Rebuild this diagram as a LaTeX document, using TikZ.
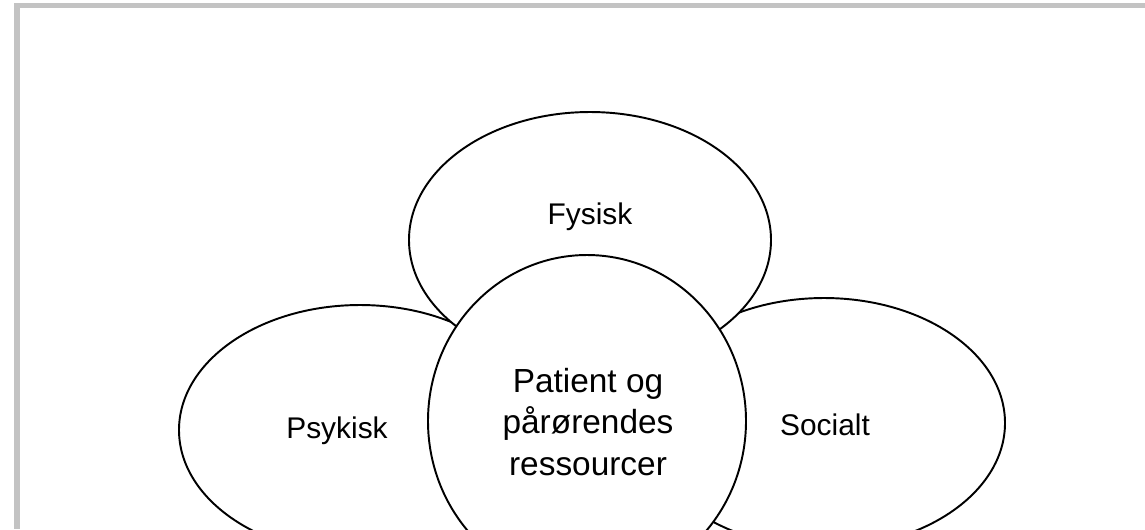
\documentclass[tikz,border=0pt]{standalone}
\usepackage{fontspec}
\setmainfont{Liberation Sans}
\definecolor{framegray}{RGB}{195,195,195}
\tikzset{
  blob/.style={draw=black, fill=white, line width=0.55pt},
  lbl/.style={font=\fontsize{8.5}{10}\selectfont},
  core/.style={align=center, font=\fontsize{9.5}{11.8}\selectfont},
}
\begin{document}
\begin{tikzpicture}
[x=0.01cm, y=-0.01cm]
\useasboundingbox (0,0) rectangle (1145,529);
\clip (0,0) rectangle (1145,529);
% frame
\fill[framegray] (14,3) rectangle (1145,8);
\fill[framegray] (14,3) rectangle (20,529);
% three ellipses
\filldraw[blob] (360,430) ellipse [x radius=181, y radius=125];
\filldraw[blob] (824,423) ellipse [x radius=181, y radius=125];
\filldraw[blob] (590,240) ellipse [x radius=181, y radius=128];
% centre circle
\filldraw[blob] (587,421) ellipse [x radius=159, y radius=166];
\node[lbl] (fys) at (590,217) {Fysisk};
\node[lbl] (psy) at (337,431) {Psykisk};
\node[lbl] (soc) at (825,425) {Socialt};
\node[core] (pat) at (588,422) {Patient og\\pårørendes\\ressourcer};
\end{tikzpicture}
\end{document}
